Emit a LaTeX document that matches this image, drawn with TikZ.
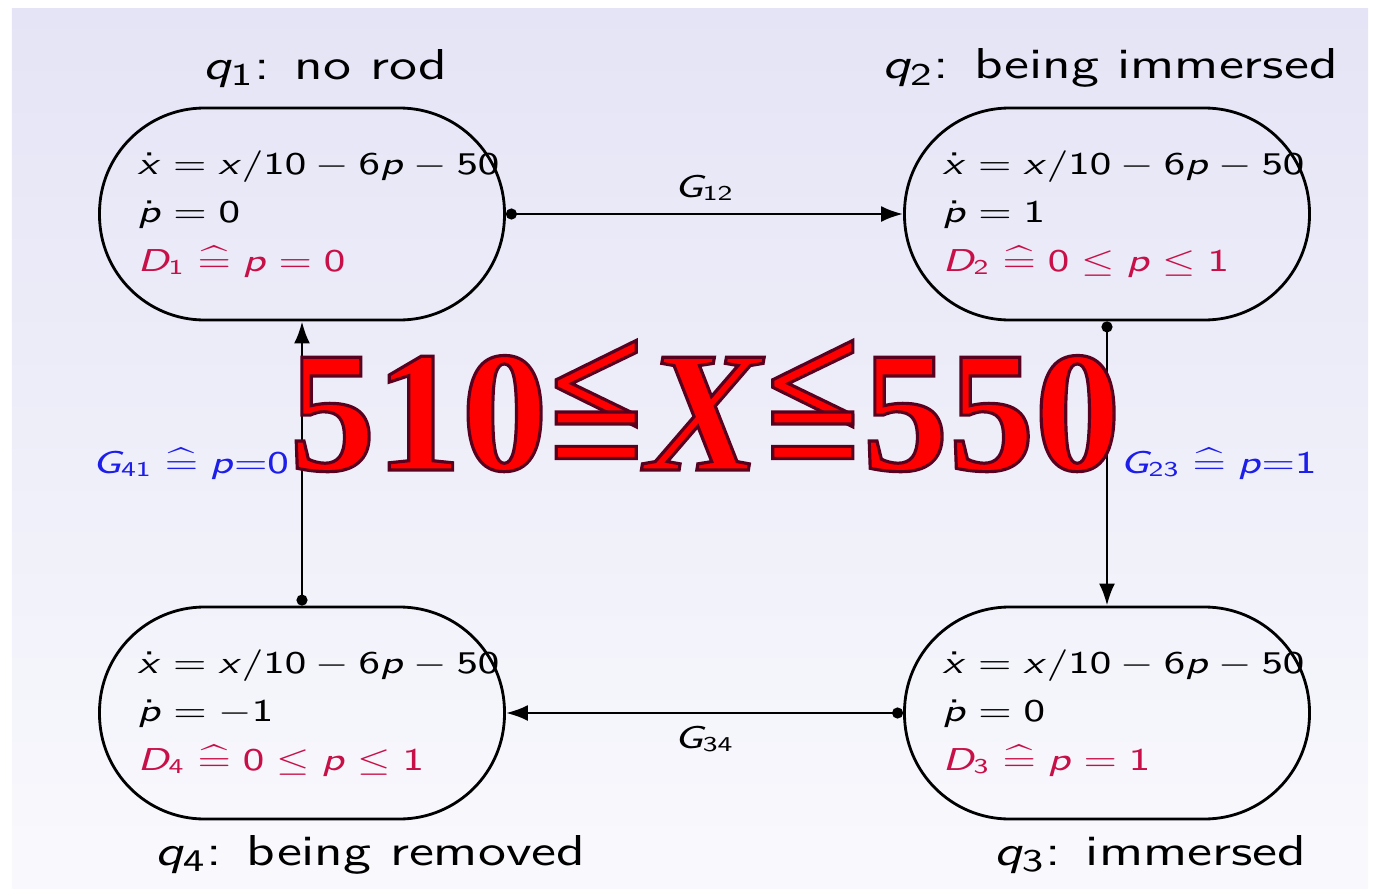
\documentclass[tikz,border=0pt]{standalone}
\usepackage[no-math]{fontspec}
\usepackage{graphicx}
\usetikzlibrary{arrows.meta, positioning}

\renewcommand{\familydefault}{\sfdefault}
\newfontfamily\stampfont{Liberation Serif}
% sans serif math, as on the slide
\DeclareSymbolFont{operators}{OT1}{cmss}{m}{n}
\DeclareSymbolFont{letters}{OT1}{cmss}{m}{sl}

\definecolor{bgtop}{RGB}{228,228,246}
\definecolor{bgbot}{RGB}{249,249,253}
\definecolor{domred}{RGB}{200,16,72}
\definecolor{guardblue}{RGB}{30,30,235}

\newcommand{\wide}[1]{\scalebox{1.32}[1]{#1}}
\newcommand{\eqdef}{\mathrel{\widehat{=}}}
\newcommand{\divsl}{\mathord{\mathchar"002F}}
\newcommand{\stampleq}{\makebox[0pt][l]{\raisebox{0.17em}{<}}\raisebox{-0.13em}{=}}
\newcommand{\outlined}[1]{\special{pdf:literal direct 2 Tr 0.9 w 0.35 0 0.12 RG}#1\special{pdf:literal direct 0 Tr}}

\begin{document}
\begin{tikzpicture}[
        thick,
        state/.style={rectangle, draw, line width=0.8pt, rounded corners=1.05cm, minimum width=4.05cm, minimum height=2.12cm},
        eqs/.style={align=left, inner sep=0pt, font=\fontsize{9}{13.8}\selectfont},
        title/.style={inner sep=1pt, font=\fontsize{12.3}{14}\selectfont},
        guard/.style={font=\fontsize{9}{11}\selectfont},
        trans/.style={line width=0.8pt, {Circle[length=1.1mm]}-{Latex[length=2.2mm, width=1.6mm]}},
        stamp/.style={anchor=base, inner sep=0pt, text=red, font=\stampfont\fontsize{49}{50}\selectfont\bfseries}
    ]

    % Background
    \useasboundingbox (0,0) rectangle (13.73,8.88);
    \fill[top color=bgtop, bottom color=bgbot] (0.12,0) rectangle (13.68,8.80);

    % States
    \node[state] (q1) at (3.02,6.74) {};
    \node[state] (q2) at (11.07,6.74) {};
    \node[state] (q3) at (11.07,1.75) {};
    \node[state] (q4) at (3.02,1.75) {};

    % Flows and domains
    \foreach \i/\pdot/\dom in {1/0/{p=0}, 2/1/{0\le p\le 1}, 3/0/{p=1}, 4/-1/{0\le p\le 1}} {
        \node[eqs, anchor=west] (e\i) at ([xshift=0.38cm]q\i.west)
            {\wide{$\dot{x}=x\divsl 10-6p-50$}\\
             \wide{$\dot{p}=\pdot$}\\
             \wide{\color{domred}$D_{\i}\eqdef \dom$}};
    }

    % Names
    \node[title, above=0.14cm of q1, xshift=0.23cm] (n1) {\wide{$q_1$: no rod}};
    \node[title, above=0.14cm of q2, xshift=0.03cm] (n2) {\wide{$q_2$: being immersed}};
    \node[title, below=0.1cm of q3, xshift=0.43cm] (n3) {\wide{$q_3$: immersed}};
    \node[title, below=0.1cm of q4, xshift=0.68cm] (n4) {\wide{$q_4$: being removed}};

    % Transitions
    \draw[trans] (q1) -- node[guard, above] {\wide{$G_{12}$}} (q2);
    \draw[trans] (q2) -- node[guard, right, text=guardblue] {\wide{$G_{23}\eqdef p{=}1$}} (q3);
    \draw[trans] (q3) -- node[guard, below] {\wide{$G_{34}$}} (q4);
    \draw[trans] (q4) -- node[guard, left, text=guardblue] {\wide{$G_{41}\eqdef p{=}0$}} (q1);

    % Overlay
    \node[stamp] (limit) at (7.05,4.18) {\outlined{510\stampleq\textit{X}\stampleq550}};

\end{tikzpicture}
\end{document}
